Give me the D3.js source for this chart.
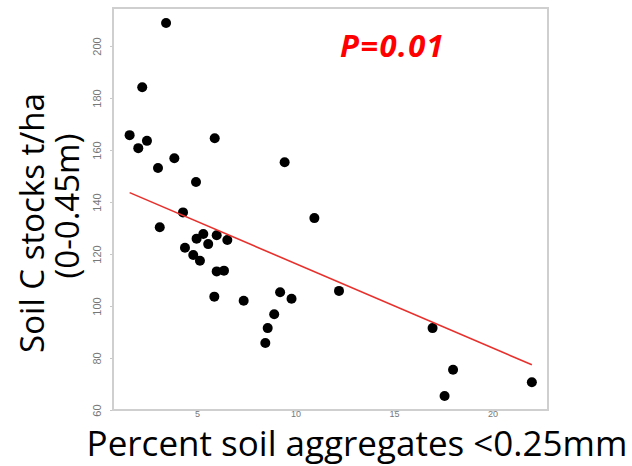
<!DOCTYPE html>
<html lang="en">
<head>
  <meta charset="UTF-8">
  <title>soil-c-scatter</title>
  <script type="text/javascript" src="https://cdn.jsdelivr.net/npm/d3@7/dist/d3.min.js"></script>
  <style>
    body { margin: 0; background: #fff; }
  </style>
</head>
<body>
<div id="chart"></div>
<script type="text/javascript">
    // percent aggregates < 0.25mm
    let aggregates = [1.58, 2.02, 2.46, 2.22, 3.43, 3.02, 3.85, 5.90, 4.95, 4.29,
        3.11, 4.39, 4.98, 5.32, 4.81, 5.15, 5.57, 6.00, 6.54, 6.00,
        6.37, 5.88, 7.37, 9.45, 10.96, 9.22, 9.80, 8.92, 8.59, 8.47,
        12.21, 16.96, 18.00, 17.57, 22.00];
    // soil C stocks t/ha
    let stocks = [165.7, 160.7, 163.5, 184.1, 208.8, 153.1, 156.8, 164.5, 147.7, 136.0,
        130.3, 122.4, 125.9, 127.7, 119.6, 117.4, 123.8, 127.2, 125.4, 113.3,
        113.6, 103.6, 102.0, 155.3, 133.8, 105.3, 102.8, 96.8, 91.5, 85.8,
        105.8, 91.5, 75.5, 65.4, 70.7];
    let fitX = [1.58, 22.0];
    let fitY = [143.6, 77.4];
    let xTicks = [5, 10, 15, 20];
    let yTicks = [60, 80, 100, 120, 140, 160, 180, 200];

    let width = 632, height = 466;
    let plotL = 113, plotR = 548, plotT = 8, plotB = 410;

    let svg = d3.select("#chart").append("svg")
        .attr("width", width).attr("height", height);

    let x = d3.scaleLinear().domain([0.736, 22.82]).range([plotL, plotR]);
    let y = d3.scaleLinear().domain([60, 214.6]).range([plotB, plotT]);

    // y axis ticks + rotated labels
    let yAxis = svg.append("g").attr("transform", "translate(" + plotL + ",0)")
        .call(d3.axisLeft(y).tickValues(yTicks).tickSize(3));
    yAxis.select(".domain").remove();
    yAxis.selectAll("line").attr("stroke", "#c8c8c8");
    yAxis.selectAll("text")
        .attr("fill", "#777").attr("font-family", "Liberation Sans, Arial, sans-serif")
        .attr("font-size", 11).attr("text-anchor", "middle")
        .attr("x", 0).attr("dy", 0)
        .attr("transform", "translate(-12,0) rotate(-90)");

    // x axis, small labels tucked right under the box
    let xAxis = svg.append("g").attr("transform", "translate(0," + plotB + ")")
        .call(d3.axisBottom(x).tickValues(xTicks).tickSize(2).tickPadding(0));
    xAxis.select(".domain").remove();
    xAxis.selectAll("line").attr("stroke", "#c8c8c8");
    xAxis.selectAll("text")
        .attr("fill", "#777").attr("font-family", "Liberation Sans, Arial, sans-serif")
        .attr("font-size", 9).attr("dy", "0.6em");

    // plot box
    svg.append("rect").attr("x", plotL).attr("y", plotT)
        .attr("width", plotR - plotL).attr("height", plotB - plotT)
        .attr("fill", "none").attr("stroke", "#cfcfcf").attr("stroke-width", 2);

    // points
    svg.append("g").selectAll("circle").data(d3.range(aggregates.length)).join("circle")
        .attr("cx", i => x(aggregates[i])).attr("cy", i => y(stocks[i]))
        .attr("r", 5).attr("fill", "#000");

    // fit line
    svg.append("line")
        .attr("x1", x(fitX[0])).attr("y1", y(fitY[0]))
        .attr("x2", x(fitX[1])).attr("y2", y(fitY[1]))
        .attr("stroke", "#e8302c").attr("stroke-width", 1.6);

    // p value
    svg.append("text").attr("x", 340).attr("y", 57)
        .attr("fill", "#ff0000").attr("font-family", "Open Sans, sans-serif")
        .attr("font-size", 31).attr("font-weight", "bold").attr("font-style", "italic")
        .attr("letter-spacing", 1.4)
        .text("P=0.01");

    // x title
    svg.append("text").attr("x", 357).attr("y", 456).attr("text-anchor", "middle")
        .attr("font-family", "Open Sans, sans-serif").attr("font-size", 35).attr("fill", "#000")
        .text("Percent soil aggregates <0.25mm");

    // y title
    svg.append("text").attr("transform", "translate(44,223) rotate(-90)")
        .attr("text-anchor", "middle")
        .attr("font-family", "Open Sans, sans-serif").attr("font-size", 33).attr("fill", "#000")
        .text("Soil C stocks t/ha");
    svg.append("text").attr("transform", "translate(79,206) rotate(-90)")
        .attr("text-anchor", "middle")
        .attr("font-family", "Open Sans, sans-serif").attr("font-size", 33).attr("fill", "#000")
        .text("(0-0.45m)");
</script>
</body>
</html>
